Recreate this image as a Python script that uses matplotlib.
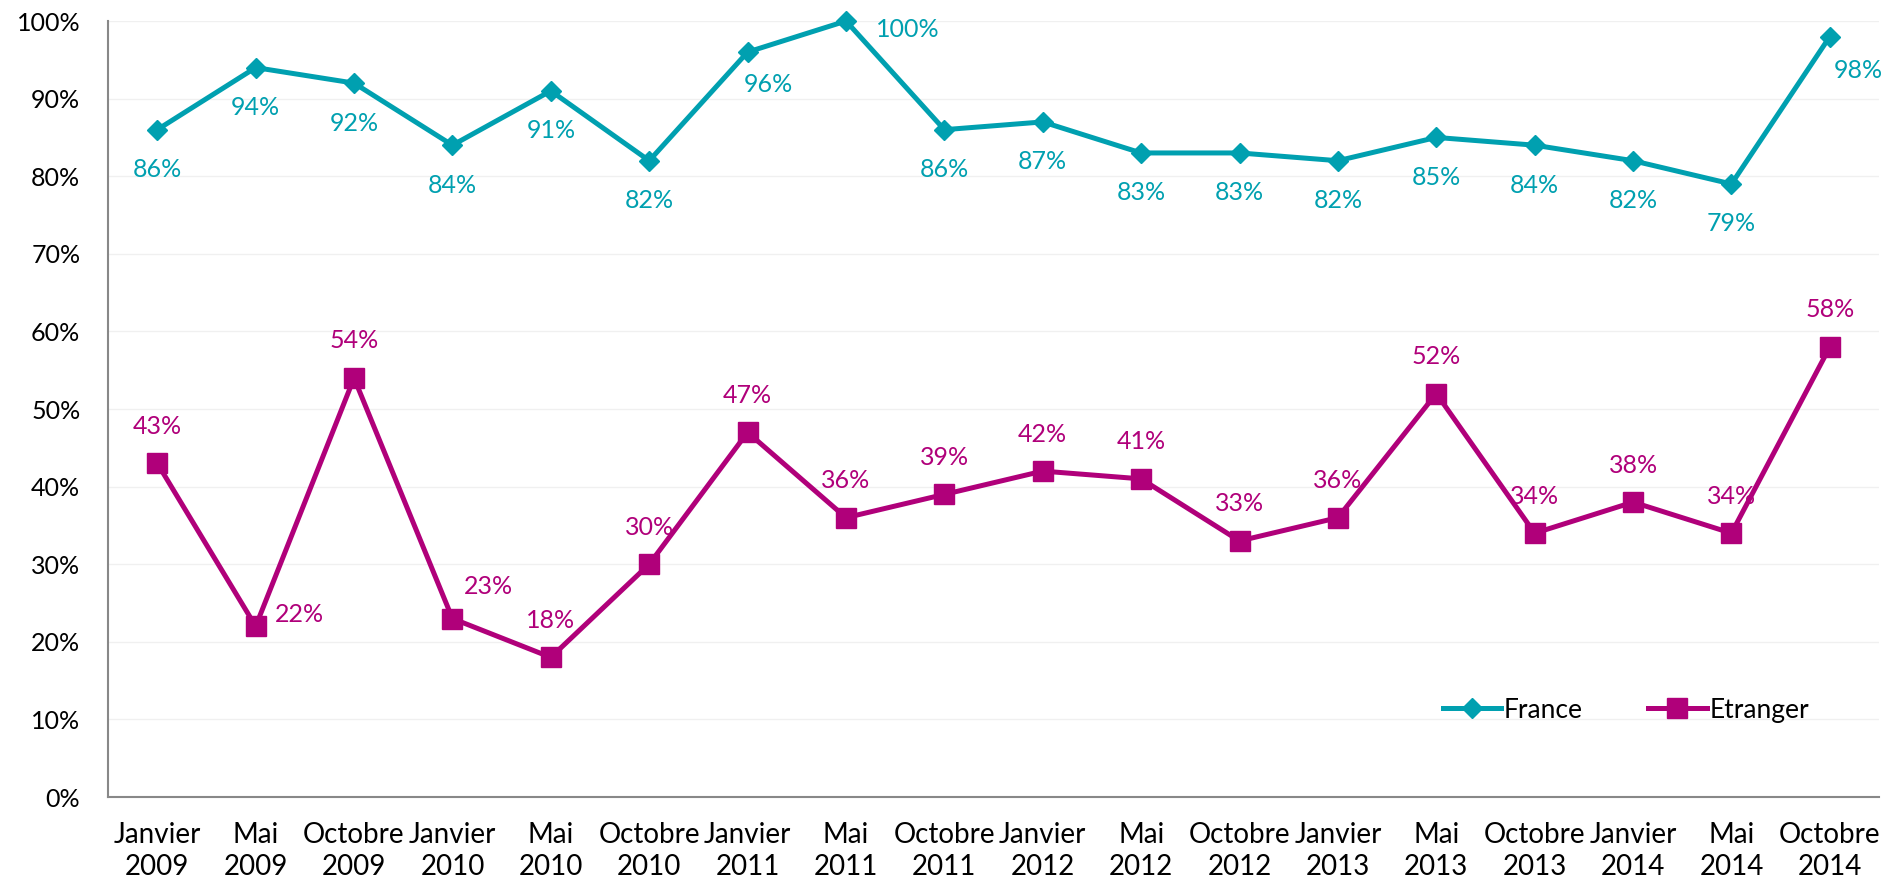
import matplotlib.pyplot as plt
import numpy as np

plt.rcParams['font.family'] = ['Lato', 'DejaVu Sans']

periodes = ["Janvier\n2009", "Mai\n2009", "Octobre\n2009",
            "Janvier\n2010", "Mai\n2010", "Octobre\n2010",
            "Janvier\n2011", "Mai\n2011", "Octobre\n2011",
            "Janvier\n2012", "Mai\n2012", "Octobre\n2012",
            "Janvier\n2013", "Mai\n2013", "Octobre\n2013",
            "Janvier\n2014", "Mai\n2014", "Octobre\n2014"]
france = [86, 94, 92, 84, 91, 82, 96, 100, 86, 87, 83, 83, 82, 85, 84, 82, 79, 98]
etranger = [43, 22, 54, 23, 18, 30, 47, 36, 39, 42, 41, 33, 36, 52, 34, 38, 34, 58]

c_fr = "#00A0B0"
c_et = "#B0007A"

# label offsets in pixels (dx, dy; dy positive = down), defaults below / above
off_fr = {6: (21, 32), 7: (62, 8), 17: (28, 34)}
off_et = {1: (44, -12), 3: (36, -32)}

fig = plt.figure(figsize=(19.03, 8.84), dpi=100)
ax = fig.add_axes([0.0568, 0.0984, 0.9306, 0.8778])

x = np.arange(len(periodes))
ax.plot(x, france, color=c_fr, lw=3.6, marker="D", ms=10.5, label="France",
        clip_on=False, zorder=3)
ax.plot(x, etranger, color=c_et, lw=3.6, marker="s", ms=14, label="Etranger",
        clip_on=False, zorder=3)

px = 72 / 100
for i, v in enumerate(france):
    dx, dy = off_fr.get(i, (0, 40))
    ax.annotate(f"{v}%", (i, v), xytext=(dx * px, -dy * px), textcoords="offset points",
                ha="center", va="center", color=c_fr, fontsize=18)
for i, v in enumerate(etranger):
    dx, dy = off_et.get(i, (0, -37))
    ax.annotate(f"{v}%", (i, v), xytext=(dx * px, -dy * px), textcoords="offset points",
                ha="center", va="center", color=c_et, fontsize=18)

ax.set_xlim(-0.5, len(periodes) - 0.5)
ax.set_ylim(0, 100)
ax.set_yticks(range(0, 101, 10))
ax.set_yticklabels([f"{t}%" for t in range(0, 101, 10)])
ax.set_xticks(x)
ax.set_xticklabels(periodes, linespacing=1.3)
ax.tick_params(axis="both", length=0, colors="black")
ax.tick_params(axis="y", labelsize=18, pad=20)
ax.tick_params(axis="x", labelsize=20, pad=18)

ax.grid(axis="y", color="#F0F0F0", lw=1)
ax.set_axisbelow(True)
for s in ["top", "right"]:
    ax.spines[s].set_visible(False)
for s in ["left", "bottom"]:
    ax.spines[s].set_color("#888888")
    ax.spines[s].set_linewidth(1.5)

ax.legend(loc="center", bbox_to_anchor=(0.857, 0.112), ncol=2, frameon=False,
          fontsize=19, handlelength=2.2, handletextpad=0.1, columnspacing=2.5)

fig.savefig("out.png", dpi=100)
